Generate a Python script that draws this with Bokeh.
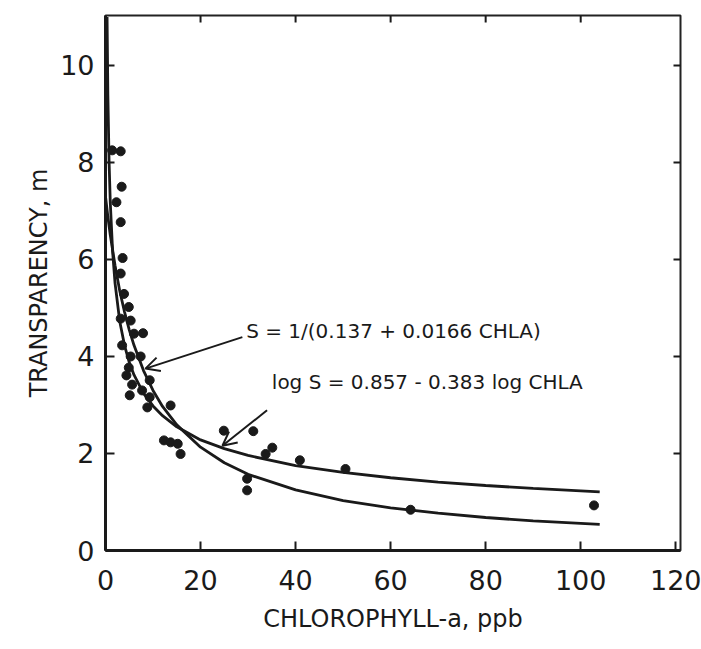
from bokeh.plotting import figure
from bokeh.models import Range1d, Label, Arrow, OpenHead, FixedTicker
from bokeh.embed import file_html
from bokeh.resources import INLINE

# Observed data points (chlorophyll-a, ppb ; transparency, m)
chla = [1.4, 3.2, 3.4, 2.3, 3.2, 3.6, 3.2, 3.9, 4.9, 3.2, 5.3, 6.0, 7.9, 3.5,
        5.3, 7.4, 4.9, 4.4, 9.3, 5.6, 7.7, 5.1, 9.3, 8.8, 13.7, 12.3, 13.7,
        15.2, 15.8, 24.9, 31.1, 33.7, 35.1, 40.9, 29.8, 29.8, 50.5, 64.2, 102.8]
transp = [8.25, 8.23, 7.5, 7.18, 6.77, 6.03, 5.71, 5.29, 5.02, 4.78, 4.74, 4.47,
          4.48, 4.23, 4.0, 4.0, 3.77, 3.61, 3.51, 3.42, 3.3, 3.2, 3.16, 2.95,
          2.99, 2.27, 2.23, 2.2, 1.99, 2.47, 2.46, 1.99, 2.12, 1.86, 1.48, 1.24,
          1.68, 0.84, 0.93]

# Fitted curve S = 1/(0.137 + 0.0166 CHLA), as drawn
hyp_x = [0, 0.5, 1, 2, 3, 4, 5, 6, 8, 10, 12, 15, 20, 25, 30, 40, 50, 60,
         70, 80, 90, 100, 104]
hyp_y = [7.30, 6.88, 6.51, 5.88, 5.35, 4.92, 4.55, 4.23, 3.71, 3.30, 2.97,
         2.59, 2.13, 1.81, 1.57, 1.25, 1.03, 0.88, 0.77, 0.68, 0.61, 0.56, 0.54]

# Fitted curve log S = 0.857 - 0.383 log CHLA, as drawn
log_x = [0.33, 0.5, 0.75, 1, 1.5, 2, 3, 4, 5, 6, 8, 10, 12, 15, 20, 25, 30,
         40, 50, 60, 70, 80, 90, 100, 104]
log_y = [11.0, 9.38, 8.03, 7.19, 6.16, 5.52, 4.72, 4.23, 3.88, 3.62, 3.24,
         2.98, 2.78, 2.55, 2.28, 2.10, 1.96, 1.75, 1.61, 1.50, 1.41, 1.34,
         1.28, 1.23, 1.21]

x_ticks = [0, 20, 40, 60, 80, 100, 120]
y_ticks = [0, 2, 4, 6, 8, 10]
x_ticks_top = [20, 40, 60, 80, 100]
y_ticks_right = [2, 4, 6, 8, 10]

eq1 = "S = 1/(0.137 + 0.0166 CHLA)"
eq2 = "log S = 0.857 - 0.383 log CHLA"

FONT = "DejaVu Sans"
INK = "#1a1a1a"
X_MAX, Y_MAX = 121, 11.03

p = figure(width=701, height=649, output_backend="svg", toolbar_location=None,
           x_range=Range1d(0, X_MAX), y_range=Range1d(0, Y_MAX),
           min_border_left=105, min_border_right=21, min_border_top=15,
           min_border_bottom=99)
p.grid.visible = False
p.background_fill_color = "white"
p.border_fill_color = "white"
p.outline_line_color = "#222222"
p.outline_line_width = 2

for ax in (p.xaxis[0], p.yaxis[0]):
    ax.axis_line_width = 3
    ax.axis_line_color = INK
    ax.major_tick_in = 9
    ax.major_tick_out = 0
    ax.major_tick_line_width = 2
    ax.major_tick_line_color = INK
    ax.minor_tick_line_color = None
    ax.major_label_text_font = FONT
    ax.major_label_text_font_size = "27px"
    ax.major_label_text_color = INK
    ax.axis_label_text_font = FONT
    ax.axis_label_text_font_size = "24px"
    ax.axis_label_text_font_style = "normal"
    ax.axis_label_text_color = INK

p.xaxis.ticker = FixedTicker(ticks=x_ticks)
p.yaxis.ticker = FixedTicker(ticks=y_ticks)
p.xaxis.axis_label = "CHLOROPHYLL-a, ppb"
p.yaxis.axis_label = "TRANSPARENCY, m"
p.xaxis.major_label_standoff = 19
p.xaxis.axis_label_standoff = 12
p.yaxis.major_label_standoff = 11
p.yaxis.axis_label_standoff = 4

# inward tick marks on the top and right frame edges (no labels)
tick_dy = 7 * Y_MAX / 535.0
tick_dx = 7 * X_MAX / 575.0
p.segment(x0=x_ticks_top, y0=[Y_MAX] * len(x_ticks_top),
          x1=x_ticks_top, y1=[Y_MAX - tick_dy] * len(x_ticks_top),
          line_color=INK, line_width=2)
p.segment(x0=[X_MAX] * len(y_ticks_right), y0=y_ticks_right,
          x1=[X_MAX - tick_dx] * len(y_ticks_right), y1=y_ticks_right,
          line_color=INK, line_width=2)

p.line(hyp_x, hyp_y, line_color=INK, line_width=2.8)
p.line(log_x, log_y, line_color=INK, line_width=2.8)
p.scatter(chla, transp, size=9, marker="circle", fill_color=INK,
          line_color=INK)

p.add_layout(Label(x=29.6, y=4.52, text=eq1, text_font=FONT,
                   text_font_size="20px", text_baseline="middle",
                   text_color=INK))
p.add_layout(Label(x=35.0, y=3.48, text=eq2, text_font=FONT,
                   text_font_size="20px", text_baseline="middle",
                   text_color=INK))

p.add_layout(Arrow(x_start=28.8, y_start=4.40, x_end=8.4, y_end=3.75,
                   line_width=2, line_color=INK,
                   end=OpenHead(size=14, line_width=2, line_color=INK)))
p.add_layout(Arrow(x_start=34.0, y_start=2.89, x_end=24.6, y_end=2.16,
                   line_width=2, line_color=INK,
                   end=OpenHead(size=14, line_width=2, line_color=INK)))

open("out.html", "w").write(file_html(p, INLINE))
